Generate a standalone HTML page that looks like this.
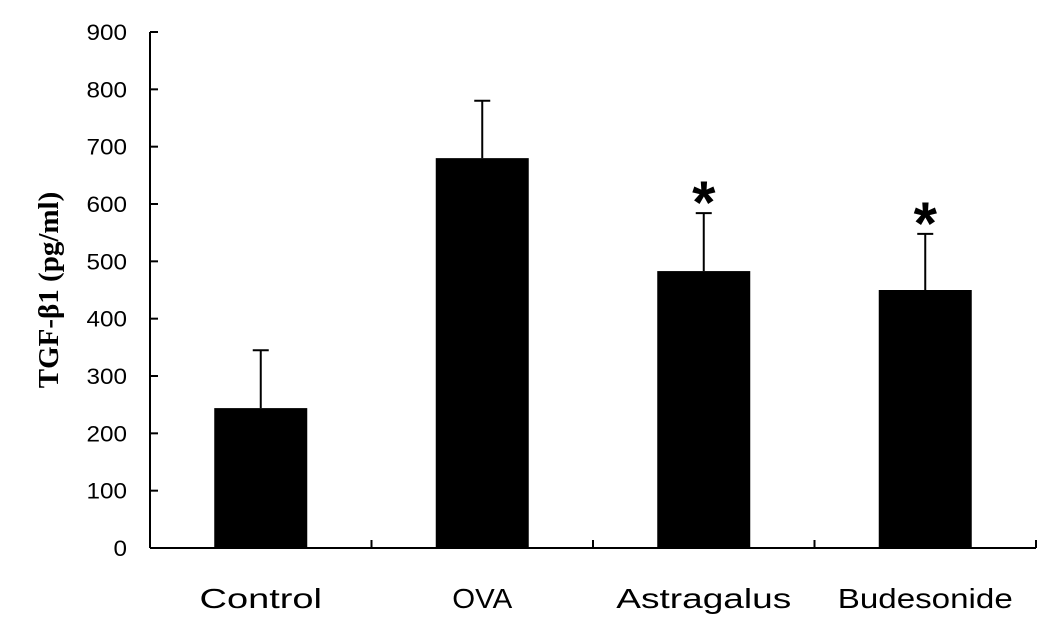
<!DOCTYPE html>
<html><head><meta charset="utf-8"><style>
html,body{margin:0;padding:0;background:#fff;}
svg{display:block;}
</style></head><body>
<svg id="chart" width="1063" height="641" xmlns="http://www.w3.org/2000/svg" font-family="Liberation Sans, sans-serif">
<text transform="translate(58,290) rotate(-90)" text-anchor="middle" font-family="Liberation Serif, serif" font-weight="bold" font-size="29">TGF-β1 (pg/ml)</text>
</svg>
<script>
const categories = ["Control","OVA","Astragalus","Budesonide"];
const values = [244, 680, 483, 450];
const errors = [101, 100, 101, 98];
const significant = [false, false, true, true];
const yTicks = [0,100,200,300,400,500,600,700,800,900];

const NS="http://www.w3.org/2000/svg";
const svg=document.getElementById('chart');
const x0=150, x1=1036, y0=548, yTop=32, yMax=900;
const catW=(x1-x0)/categories.length;
const barW=93;
function y(v){return y0-(v/yMax)*(y0-yTop);}
function cx(i){return x0+catW*(i+0.5);}
function mk(tag,attrs,text){const e=document.createElementNS(NS,tag);for(const k in attrs)e.setAttribute(k,attrs[k]);if(text!==undefined)e.textContent=text;svg.appendChild(e);return e;}

let a=mk('line',{x1:x0,y1:yTop,x2:x0,y2:y0,stroke:'#000','stroke-width':2});


a=mk('line',{x1:x0,y1:y0,x2:x1,y2:y0,stroke:'#000','stroke-width':2});



yTicks.forEach(t=>{
  let l=mk('line',{x1:x0,y1:y(t),x2:x0+8,y2:y(t),stroke:'#000','stroke-width':2});
  
  
  let tx=mk('text',{x:127,y:y(t)+8,'text-anchor':'end','font-size':22,'textLength':String(t).length*13.5,'lengthAdjust':'spacingAndGlyphs'},String(t));
  
  
});
for(let i=1;i<=categories.length;i++){
  let l=mk('line',{x1:x0+catW*i,y1:y0,x2:x0+catW*i,y2:y0-8,stroke:'#000','stroke-width':2});
  
  
}
categories.forEach((c,i)=>{
  const c0=cx(i);
  let e=mk('line',{x1:c0,y1:y(values[i]),x2:c0,y2:y(values[i]+errors[i]),stroke:'#000','stroke-width':2});
  
  
  let cap=mk('line',{x1:c0-8,y1:y(values[i]+errors[i]),x2:c0+8,y2:y(values[i]+errors[i]),stroke:'#000','stroke-width':2});
  
  
  let b=mk('rect',{x:c0-barW/2,y:y(values[i]),width:barW,height:y0-y(values[i]),fill:'#000'});
  
  
  let t=mk('text',{x:c0,y:608,'text-anchor':'middle','font-size':28},c);
  
  
  const w=t.getComputedTextLength();
  const target=c.length<=3?w*1.05:Math.max(w*0.95,c.length*17.5);
  t.setAttribute('textLength',target);
  t.setAttribute('lengthAdjust','spacingAndGlyphs');
  if(significant[i]){
    let s=mk('text',{x:c0,y:y(values[i]+errors[i])+10,'text-anchor':'middle','font-size':60,'font-weight':'bold'},'*');
    
    
  }
});
</script>
</body></html>
